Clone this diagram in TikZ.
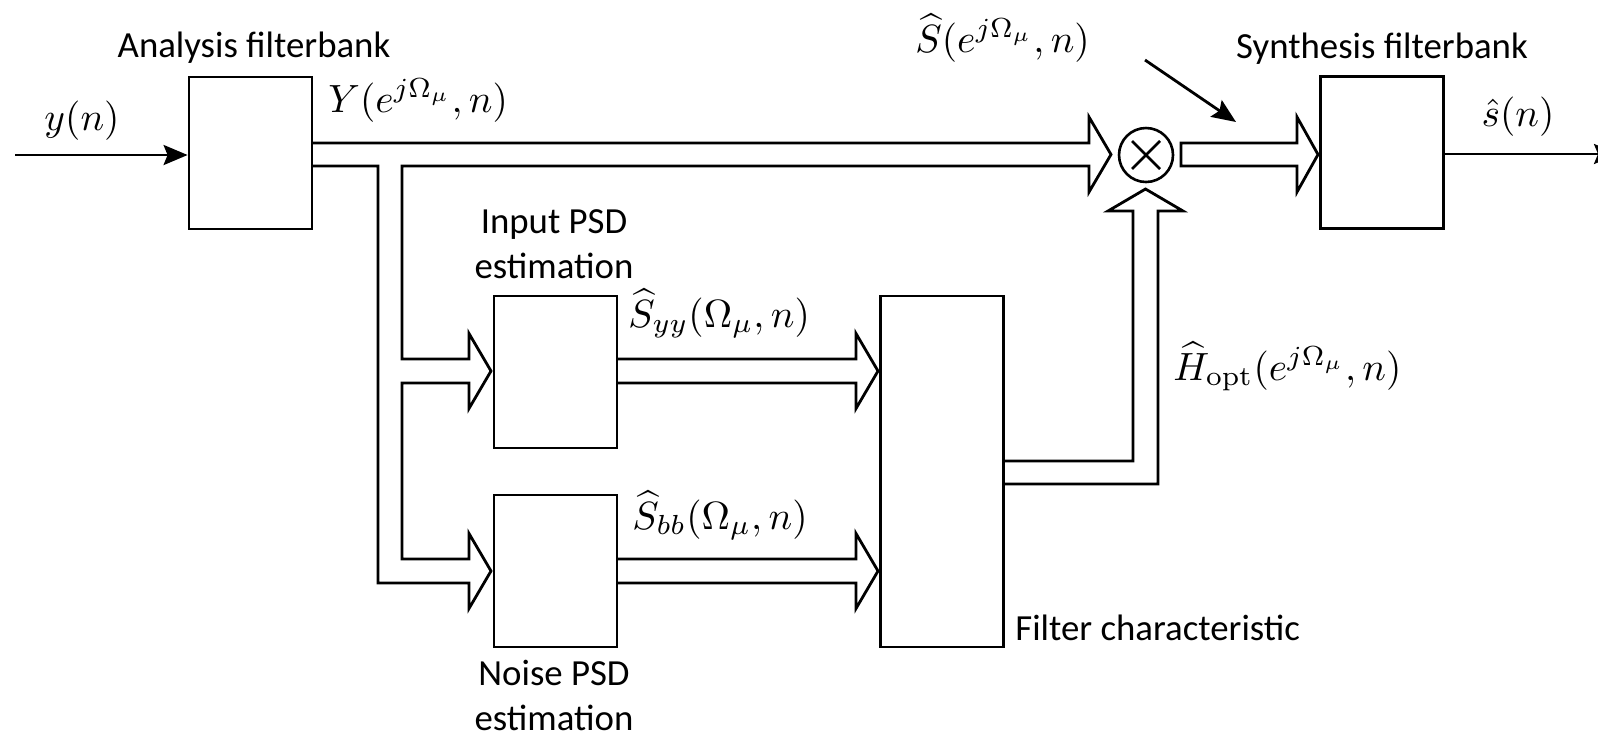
\documentclass[tikz,border=0pt]{standalone}
\usepackage[no-math]{fontspec}
\usepackage{graphicx}
\setmainfont{Carlito}
\usetikzlibrary{arrows.meta,calc}

\newcommand{\mlab}[1]{\scalebox{1.97}{$#1$}}

\tikzset{
  blk/.style={draw,line width=1.4pt,minimum width=61.5pt,minimum height=76pt,inner sep=0pt},
  band/.style={line width=1.4pt,line join=miter},
  sig/.style={-{Stealth[length=12pt,width=10pt,inset=2pt]},line width=1.4pt},
  txt/.style={font=\fontsize{18.4}{22.4}\selectfont,inner sep=0pt},
  mth/.style={font=\fontsize{10}{12}\selectfont,inner sep=0pt}
}

\begin{document}
\begin{tikzpicture}[x=0.5pt,y=-0.5pt]
\useasboundingbox (0,0) rectangle (1598,736);
% blocks
\node[blk] (ana) at (250.5,153) {};
\node[blk] (syn) at (1382,152.5) {};
\node[blk] (inp) at (555.5,372) {};
\node[blk] (noi) at (555.5,571) {};
\node[blk,minimum height=175.5pt] (fil) at (942,471.5) {};
\node[draw,circle,line width=1.3pt,minimum size=27pt,inner sep=0pt] (mul) at (1146,155) {};
\draw[line width=1.3pt] ($(mul)+(-14,-14)$) -- ($(mul)+(14,14)$);
\draw[line width=1.3pt] ($(mul)+(-14,14)$) -- ($(mul)+(14,-14)$);

% scalar signals
\coordinate (yin) at (15,155);
\coordinate (sout) at (1618,154);
\draw[sig] (yin) -- (yin -| ana.west);
\draw[sig] (sout -| syn.east) -- (sout);
\coordinate (hs) at (1145,60);
\coordinate (hd) at (1236,122);
\draw[sig] (hs) -- (hd);

% subband signals
\draw[band] (312,143) -- (1089,143) -- (1089,117) -- (1111,154.5) -- (1089,192) -- (1089,166)
  -- (402,166) -- (402,359) -- (469,359) -- (469,333.5) -- (491,371) -- (469,408.5) -- (469,383)
  -- (402,383) -- (402,559) -- (469,559) -- (469,533.5) -- (491,571) -- (469,608.5) -- (469,583)
  -- (378,583) -- (378,166) -- (312,166);
\draw[band] (617,359) -- (856,359) -- (856,333.5) -- (878,371) -- (856,408.5) -- (856,383) -- (617,383);
\draw[band] (617,559) -- (856,559) -- (856,533.5) -- (878,571) -- (856,608.5) -- (856,583) -- (617,583);
\draw[band] (1003,461) -- (1133,461) -- (1133,211) -- (1108,211) -- (1145.5,189) -- (1183,211)
  -- (1158,211) -- (1158,484) -- (1003,484);
\draw[band] (1181,143) -- (1297,143) -- (1297,117) -- (1318,154.5) -- (1297,192) -- (1297,166)
  -- (1181,166) -- cycle;

% labels
\node[txt,anchor=base] (anat) at (254,57) {Analysis filterbank};
\node[txt,anchor=base] (synt) at (1382,58) {Synthesis filterbank};
\node[txt,anchor=base,align=center] (inpt) at (554,278) {Input PSD\\estimation};
\node[txt,anchor=base,align=center] (noit) at (554,730) {Noise PSD\\estimation};
\node[txt,anchor=base west] (filt) at (1015,640) {Filter characteristic};
\node[mth,anchor=base] (yn) at (82,130) {\mlab{y(n)}};
\node[mth,anchor=base] (sn) at (1518,126) {\mlab{\hat{s}(n)}};
\node[mth,anchor=base west] (ylab) at (328,112) {\mlab{Y(e^{j\Omega_\mu},n)}};
\node[mth,anchor=base west] (shl) at (915,52) {\mlab{\widehat{S}(e^{j\Omega_\mu},n)}};
\node[mth,anchor=base west] (syyl) at (628,327) {\mlab{\widehat{S}_{yy}(\Omega_\mu,n)}};
\node[mth,anchor=base west] (sbbl) at (632,529) {\mlab{\widehat{S}_{bb}(\Omega_\mu,n)}};
\node[mth,anchor=base west] (hl) at (1173,380) {\mlab{\widehat{H}_{\mathrm{opt}}(e^{j\Omega_\mu},n)}};
\end{tikzpicture}
\end{document}
